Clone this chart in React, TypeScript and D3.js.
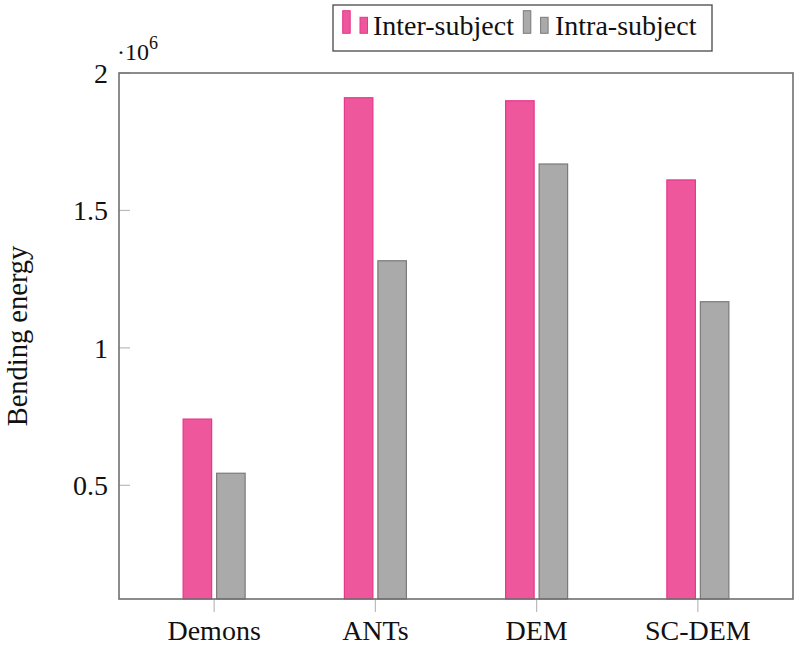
import React from "react";
import * as d3 from "d3";

const categories = ["Demons", "ANTs", "DEM", "SC-DEM"];
const interSubject = [0.741, 1.91, 1.899, 1.611];
const intraSubject = [0.544, 1.317, 1.669, 1.168];
const yTicks = [0.5, 1, 1.5, 2];
const seriesNames = ["Inter-subject", "Intra-subject"];

const W = 800;
const H = 646;
const left = 119, right = 793, top = 73, bottom = 599;
const FONT = "'Liberation Serif', 'Times New Roman', serif";
const PINK = "#ee579c";
const PINK_STROKE = "#e8358d";
const GRAY = "#aaaaaa";
const GRAY_STROKE = "#7a7a7a";

export default function App() {
  const x = d3.scalePoint<string>().domain(categories).range([left, right]).padding(0.59);
  const y = d3.scaleLinear().domain([0.0865, 2]).range([bottom, top]);
  const bw = 28.5;
  const off = 16.75;
  const series = [
    { name: seriesNames[0], values: interSubject, fill: PINK, stroke: PINK_STROKE, dx: -off },
    { name: seriesNames[1], values: intraSubject, fill: GRAY, stroke: GRAY_STROKE, dx: off },
  ];
  return (
    <svg width={W} height={H} style={{ position: "absolute", left: 0, top: 0 }} fontFamily={FONT}>
      <rect x={0} y={0} width={W} height={H} fill="#fff" />
      {series.map((s) =>
        categories.map((c, i) => (
          <rect
            key={s.name + c}
            x={(x(c) as number) + s.dx - bw / 2}
            y={y(s.values[i])}
            width={bw}
            height={bottom - y(s.values[i])}
            fill={s.fill}
            stroke={s.stroke}
            strokeWidth={1.2}
          />
        ))
      )}
      {yTicks.map((t) => (
        <g key={t}>
          <line x1={left} x2={left + 11} y1={y(t)} y2={y(t)} stroke="#bbb" strokeWidth={1.2} />
          <text x={108} y={y(t)} dy="0.35em" textAnchor="end" fontSize={28} fill="#111">
            {String(t)}
          </text>
        </g>
      ))}
      {categories.map((c) => (
        <g key={c}>
          <line x1={x(c)} x2={x(c)} y1={bottom} y2={bottom + 13} stroke="#bbb" strokeWidth={1.2} />
          <text x={x(c)} y={640} textAnchor="middle" fontSize={28} fill="#111">
            {c}
          </text>
        </g>
      ))}
      <rect x={left} y={top} width={right - left} height={bottom - top} fill="none" stroke="#707070" strokeWidth={1.6} />
      <text x={117} y={60} fontSize={24} fill="#111">
        ·10
        <tspan dy={-11} fontSize={18}>6</tspan>
      </text>
      <text transform="translate(27,336) rotate(-90)" textAnchor="middle" fontSize={28.5} fill="#111">
        Bending energy
      </text>
      <rect x={333} y={5} width={379} height={46} fill="#fff" stroke="#555" strokeWidth={1.4} />
      {series.map((s, i) => {
        const ox = i === 0 ? 342.7 : 523.3;
        const tx = i === 0 ? 373 : 555;
        return (
          <g key={s.name}>
            <rect x={ox} y={10.7} width={7.5} height={22.6} fill={s.fill} stroke={s.stroke} strokeWidth={1} />
            <rect x={ox + 17.3} y={17.3} width={7.5} height={16} fill={s.fill} stroke={s.stroke} strokeWidth={1} />
            <text x={tx} y={35} fontSize={28} fill="#111">
              {s.name}
            </text>
          </g>
        );
      })}
    </svg>
  );
}
